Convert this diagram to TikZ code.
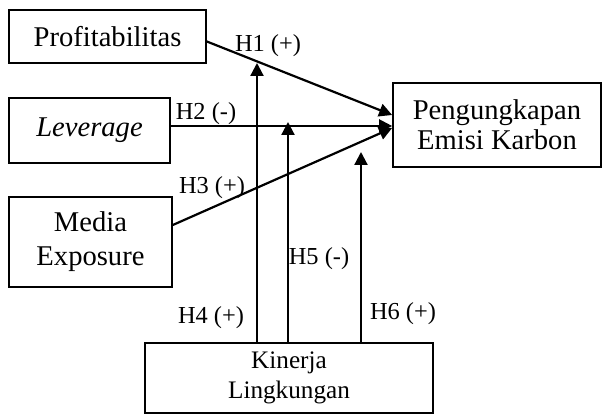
\documentclass[tikz,border=0pt]{standalone}
\usepackage{fontspec}
\setmainfont{Liberation Serif}
\usetikzlibrary{calc,arrows.meta}
\begin{document}
\begin{tikzpicture}[x=0.5pt,y=-0.5pt,
 box/.style={draw, line width=0.85pt, inner sep=0pt, align=center, font=\fontsize{14.3}{17}\selectfont},
 arr/.style={line width=1.1pt, -{Triangle[length=6.5pt,width=6.5pt]}},
 lbl/.style={font=\fontsize{12.2}{14}\selectfont, inner sep=0pt}]
\useasboundingbox (0,0) rectangle (602,415);
\node[box, minimum width=98.5pt, minimum height=26.5pt] (prof) at (107.5,36.5) {Profitabilitas};
\node[box, minimum width=80.5pt, minimum height=32.5pt] (lev) at (89.5,130.5) {\raisebox{2pt}{\itshape Leverage}};
\node[box, minimum width=81.5pt, minimum height=45pt] (media) at (90.5,242) {Media\\Exposure};
\node[box, minimum width=104pt, minimum height=42pt, font=\fontsize{14.3}{15}\selectfont] (peng) at (497,125) {Pengungkapan\\Emisi Karbon};
\node[box, minimum width=144pt, minimum height=35pt, font=\fontsize{12.6}{15}\selectfont] (kin) at (289,378) {Kinerja\\Lingkungan};
% main arrows
\draw[arr] ($(prof.east)+(0,5)$) -- ($(peng.west)+(0,-10)$);
\draw[arr] ($(lev.east)+(0,-4.5)$) -- ($(peng.west)+(0,1)$);
\draw[arr] ($(media.east)+(0,-17)$) -- ($(peng.west)+(0,3)$);
% moderating arrows
\coordinate (t1) at (257,63);
\coordinate (t2) at (288,122);
\coordinate (t3) at (361,152);
\draw[arr] (kin.north -| t1) -- (t1);
\draw[arr] (kin.north -| t2) -- (t2);
\draw[arr] (kin.north -| t3) -- (t3);
% labels
\node[lbl] (h1) at (268,46) {H1 (+)};
\node[lbl] (h2) at (206,114) {H2 (-)};
\node[lbl] (h3) at (212,188) {H3 (+)};
\node[lbl] (h4) at (211,318) {H4 (+)};
\node[lbl] (h5) at (319,259) {H5 (-)};
\node[lbl] (h6) at (403,314) {H6 (+)};
\end{tikzpicture}
\end{document}
